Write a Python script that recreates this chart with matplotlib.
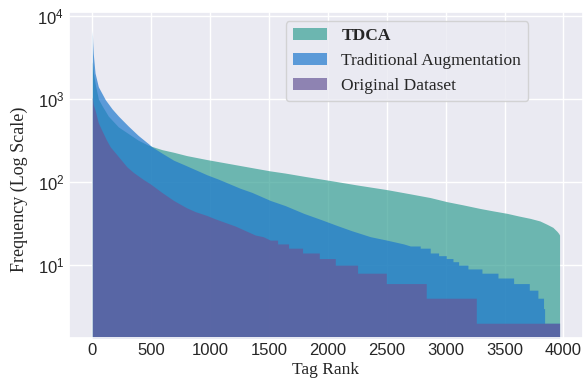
import matplotlib
matplotlib.use('Agg')
import matplotlib.pyplot as plt
import seaborn as sns

# tag-frequency curves (rank -> frequency)
tdca_rank = [0, 10, 25, 51, 82, 136, 221, 306, 390, 475, 506, 592, 690, 800, 974,
             1200, 1400, 1511, 1638, 1800, 2006, 2250, 2501, 2700, 2869, 3011, 3150,
             3294, 3400, 3520, 3620, 3718, 3800, 3860, 3910, 3945, 3960, 3967]
tdca_freq = [2800, 2000, 1500, 1000, 830, 620, 460, 382, 318, 277, 268, 245, 228, 208, 186,
             163, 145, 136, 128, 117, 105, 92, 81, 72, 65, 58, 53,
             48, 45, 42, 39, 36.5, 34, 31, 28.5, 25.5, 24, 23]

trad_rank = [0, 3, 8, 23, 51, 110, 167, 222, 306, 390, 475, 506, 592, 690, 790, 974,
             1072, 1256, 1355, 1511, 1638, 1794, 1950, 2077, 2200, 2360, 2500, 2643, 2700,
             2784, 2784, 2869, 2869, 2940, 2940, 3005, 3005, 3062, 3062, 3110, 3110,
             3189, 3189, 3308, 3308, 3444, 3444, 3577, 3577, 3710, 3710, 3783, 3783,
             3831, 3831, 3840, 3840, 3967]
trad_freq = [6700, 4800, 3500, 2050, 1400, 980, 760, 620, 470, 363, 290, 265, 222, 183, 159, 122,
             108, 84, 75, 60, 52, 42, 35, 30, 26, 22, 20, 18, 17,
             17, 16, 16, 14, 14, 13, 13, 12, 12, 11, 11, 10,
             10, 9, 9, 8, 8, 7, 7, 6, 6, 5, 5, 4,
             4, 3, 3, 2, 2]

orig_rank = [0, 8, 25, 50, 80, 120, 153, 200, 294, 350, 430, 492, 590, 690, 800, 874,
             974, 1044, 1214, 1300, 1384, 1450, 1511,
             1573, 1573, 1666, 1666, 1785, 1785, 1927, 1927, 2063, 2063, 2252, 2252,
             2496, 2496, 2835, 2835, 3260, 3260, 3967]
orig_freq = [1050, 850, 720, 520, 420, 320, 264, 220, 152, 130, 108, 95, 75, 60, 49, 44,
             39.5, 36, 29.5, 26, 23, 22, 20,
             20, 18, 18, 16, 16, 14, 14, 12, 12, 10, 10, 8,
             8, 6, 6, 4, 4, 2, 2]

labels = ['TDCA', 'Traditional Augmentation', 'Original Dataset']
colors = ['#37a094', '#1e78cd', '#685798']

sns.set_theme(style='darkgrid')
plt.rcParams['font.family'] = ['Liberation Sans', 'DejaVu Sans']

fig = plt.figure(figsize=(5.83, 3.79), dpi=100)
ax = fig.add_axes([69 / 583, (379 - 337.7) / 379, (583 - 69) / 583, (337.7 - 12.3) / 379])

ax.fill_between(tdca_rank, tdca_freq, 0.5, color=colors[0], alpha=0.7, lw=0, label=labels[0])
ax.fill_between(trad_rank, trad_freq, 0.5, color=colors[1], alpha=0.7, lw=0, label=labels[1])
ax.fill_between(orig_rank, orig_freq, 0.5, color=colors[2], alpha=0.7, lw=0, label=labels[2])

ax.set_yscale('log')
ax.set_ylim(1.34, 11000)
ax.set_xlim(-198, 4166)
ax.set_xticks([0, 500, 1000, 1500, 2000, 2500, 3000, 3500, 4000])
ax.tick_params(labelsize=12, length=0, pad=3.5)

serif = ['Liberation Serif', 'DejaVu Serif']
ax.set_xlabel('Tag Rank', family=serif, fontsize=12.5, labelpad=3)
ax.set_ylabel('Frequency (Log Scale)', family=serif, fontsize=13)
ax.yaxis.set_label_coords(-0.079, 0.457)

leg = ax.legend(loc='upper left', bbox_to_anchor=(0.4216, 0.9724), borderaxespad=0,
                prop={'family': serif, 'size': 12.5})
leg.get_texts()[0].set_fontweight('bold')

fig.savefig('out.png', dpi=100)
